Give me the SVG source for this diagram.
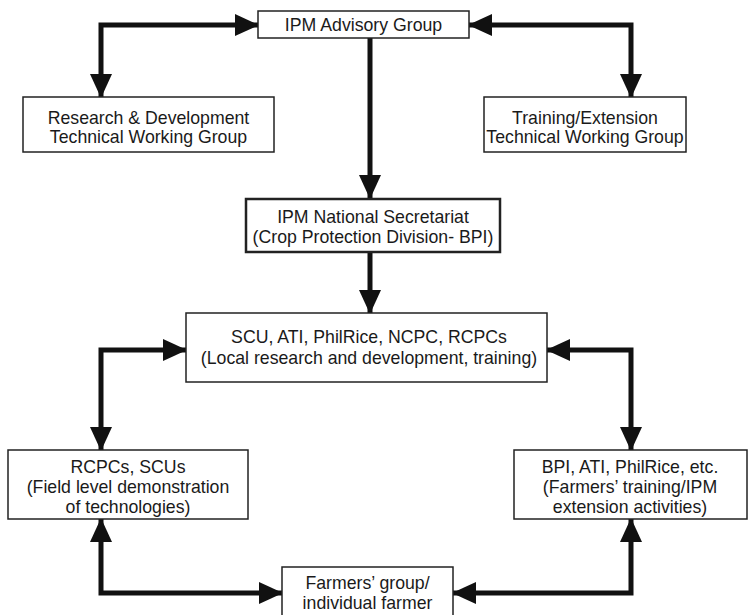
<svg xmlns="http://www.w3.org/2000/svg" width="748" height="615" viewBox="0 0 748 615">
<defs>
<marker id="ah" markerUnits="userSpaceOnUse" markerWidth="24" markerHeight="22" refX="23" refY="11" orient="auto-start-reverse">
<path d="M0,0 L24,11 L0,22 z" fill="#111"/>
</marker>
</defs>
<style>
.box{fill:#fff;stroke:#222;stroke-width:1.5}
.thick{stroke-width:2.5}
text{font-family:"Liberation Sans","Helvetica",Arial,sans-serif;font-size:17.7px;fill:#1a1a1a;text-anchor:middle}
.c{fill:none;stroke:#111;stroke-width:5;stroke-linejoin:miter}
</style>
<rect width="748" height="615" fill="#fff"/>
<g id="connectors">
<path class="c" d="M258,25 H101 V97" marker-start="url(#ah)" marker-end="url(#ah)"/>
<path class="c" d="M469,25 H631 V97" marker-start="url(#ah)" marker-end="url(#ah)"/>
<path class="c" d="M370,38 V198" marker-end="url(#ah)"/>
<path class="c" d="M370,252 V313" marker-end="url(#ah)"/>
<path class="c" d="M186,350 H101 V450" marker-start="url(#ah)" marker-end="url(#ah)"/>
<path class="c" d="M547,350 H631 V450" marker-start="url(#ah)" marker-end="url(#ah)"/>
<path class="c" d="M101,519 V593 H282" marker-start="url(#ah)" marker-end="url(#ah)"/>
<path class="c" d="M631,519 V593 H453" marker-start="url(#ah)" marker-end="url(#ah)"/>
</g>
<g id="advisory">
<rect class="box" x="258" y="11" width="211" height="27"/>
<text x="363.5" y="31">IPM Advisory Group</text>
</g>
<g id="rnd">
<rect class="box" x="23" y="97" width="251" height="55"/>
<text x="148.5" y="124">Research &amp; Development</text>
<text x="148.5" y="143">Technical Working Group</text>
</g>
<g id="training">
<rect class="box" x="484" y="97" width="202" height="55"/>
<text x="585" y="124">Training/Extension</text>
<text x="585" y="143">Technical Working Group</text>
</g>
<g id="secretariat">
<rect class="box thick" x="246" y="199" width="254" height="53"/>
<text x="373" y="223">IPM National Secretariat</text>
<text x="373" y="243">(Crop Protection Division- BPI)</text>
</g>
<g id="scu">
<rect class="box" x="186" y="313" width="361" height="69"/>
<text x="369" y="343">SCU, ATI, PhilRice, NCPC, RCPCs</text>
<text x="369" y="364">(Local research and development, training)</text>
</g>
<g id="rcpcs">
<rect class="box" x="8" y="450" width="240" height="69"/>
<text x="128" y="473">RCPCs, SCUs</text>
<text x="128" y="493">(Field level demonstration</text>
<text x="128" y="513">of technologies)</text>
</g>
<g id="bpi">
<rect class="box" x="514" y="450" width="233" height="69"/>
<text x="630" y="473">BPI, ATI, PhilRice, etc.</text>
<text x="630" y="493">(Farmers’ training/IPM</text>
<text x="630" y="513">extension activities)</text>
</g>
<g id="farmers">
<rect class="box" x="282" y="567" width="171" height="60"/>
<text x="367.5" y="589">Farmers’ group/</text>
<text x="367.5" y="609">individual farmer</text>
</g>
</svg>
